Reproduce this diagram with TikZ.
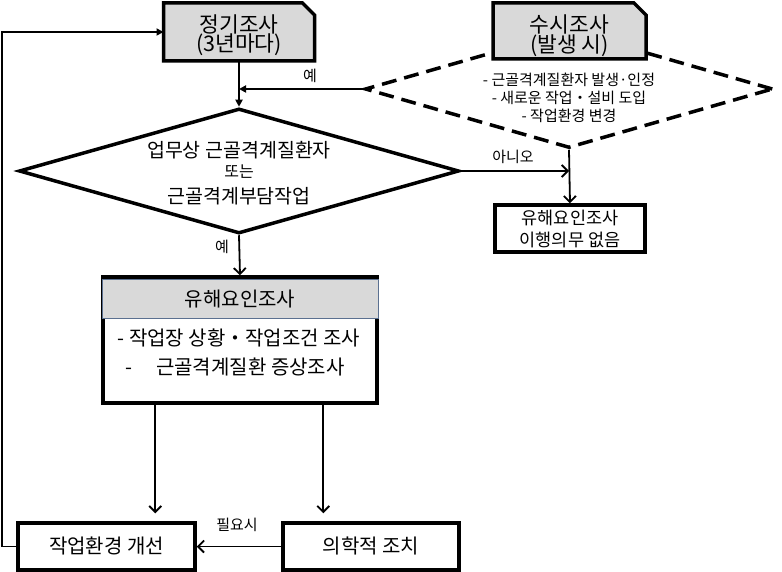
\documentclass[tikz,border=0pt]{standalone}
\usepackage{fontspec}
\setmainfont{Noto Sans CJK KR}
\usetikzlibrary{shapes.geometric,arrows.meta,calc}
\definecolor{boxgray}{HTML}{D9D9D9}
\definecolor{hdrline}{HTML}{5B7090}
\newcommand\myfs[1]{\fontsize{#1}{#1}\selectfont}
\tikzset{
  boxline/.style={draw=black, line width=3.5pt},
  anchorbox/.style={inner sep=0pt, outer sep=0pt},
  tbox/.style={boxline, fill=white, inner sep=0pt},
  txt/.style={inner sep=0pt, text=black},
  arrF/.style={line width=1.8pt, -{Triangle[length=7pt,width=7pt]}},
  arrO/.style={line width=1.8pt, -{Straight Barb[length=6pt,width=12pt]}},
  lbl/.style={txt, font=\myfs{15}},
}
\begin{document}
\begin{tikzpicture}[x=1pt, y=-1pt]
\useasboundingbox (0,0) rectangle (782,572);

% periodic survey box (chamfered)
\node[anchorbox, minimum width=151pt, minimum height=58pt] (a) at (239,32) {};
\draw[boxline, fill=boxgray] (a.south west) -- (a.north west) -- ($(a.north east)+(-12,0)$) -- ($(a.north east)+(0,12)$) -- (a.south east) -- cycle;
\node[txt, font=\myfs{21.5}] (a1) at (239,24) {정기조사};
\node[txt, font=\myfs{21.5}] (a2) at (239,45) {(3년마다)};

% dashed occasional diamond
\node[diamond, draw, line width=3.5pt, dash pattern=on 15pt off 8pt, minimum width=408pt, minimum height=118pt, inner sep=0pt] (d2) at (569,89) {};
\node[txt, font=\myfs{15}] (d2a) at (569,80) {- 근골격계질환자 발생·인정};
\node[txt, font=\myfs{15}] (d2b) at (569,98) {- 새로운 작업・설비 도입};
\node[txt, font=\myfs{15}] (d2c) at (569,116) {- 작업환경 변경};

% occasional survey box (chamfered)
\node[anchorbox, minimum width=153pt, minimum height=56pt] (s) at (569.5,31) {};
\draw[boxline, fill=boxgray] (s.south west) -- (s.north west) -- ($(s.north east)+(-12,0)$) -- ($(s.north east)+(0,12)$) -- (s.south east) -- cycle;
\node[txt, font=\myfs{21.5}] (s1) at (569.5,24) {수시조사};
\node[txt, font=\myfs{21.5}] (s2) at (569.5,46) {(발생 시)};

% main decision diamond
\node[diamond, draw, line width=3.5pt, minimum width=440pt, minimum height=125pt, inner sep=0pt] (d1) at (239,171) {};
\node[txt, font=\myfs{19.5}] (d1a) at (239,150) {업무상 근골격계질환자};
\node[txt, font=\myfs{16}] (d1b) at (239,172) {또는};
\node[txt, font=\myfs{19.5}] (d1c) at (239,196) {근골격계부담작업};

% no obligation box
\node[tbox, minimum width=150pt, minimum height=47pt] (n) at (570,228.5) {};
\node[txt, font=\myfs{17.5}] (n1) at (570,218) {유해요인조사};
\node[txt, font=\myfs{17.5}] (n2) at (570,240) {이행의무 없음};

% hazard survey box
\node[tbox, minimum width=274pt, minimum height=126pt] (h) at (240,340) {};
\node[draw=hdrline, line width=0.8pt, fill=boxgray, inner sep=0pt, minimum width=276pt, minimum height=39pt] (hh) at (240,298.5) {};
\node[txt, font=\myfs{20}] (h0) at (240,299) {유해요인조사};
\node[txt, font=\myfs{20}] (h1) at (239,338) {- 작업장 상황・작업조건 조사};
\node[txt, font=\myfs{20}, anchor=west] (h2) at (125,367) {-\hspace{24pt}근골격계질환 증상조사};

% bottom boxes
\node[tbox, minimum width=177pt, minimum height=47pt] (b1) at (106.5,546.5) {};
\node[txt, font=\myfs{20}] (b1t) at (106.5,546) {작업환경 개선};
\node[tbox, minimum width=176pt, minimum height=47pt] (b2) at (371,546.5) {};
\node[txt, font=\myfs{20}] (b2t) at (371,546) {의학적 조치};

% connectors
\draw[arrF] (a.south) -- (d1.north);
\draw[arrF] (d2.west) -- (d2.west -| a.south);
\node[lbl] (yes1) at (310,76) {예};
\draw[arrO] (d1.east) -- (d1.east -| d2.south);
\node[lbl] (no1) at (513,157) {아니오};
\draw[arrO] (d2.south) -- (n.north);
\draw[arrO] (d1.south) -- (h.north);
\node[lbl] (yes2) at (222,247) {예};

\coordinate (p1) at ($(h.south west)+(54,0)$);
\coordinate (p2) at ($(h.south west)+(222,0)$);
\draw[arrO, shorten >=8pt] (p1) -- (p1 |- b1.north);
\draw[arrO, shorten >=8pt] (p2) -- (p2 |- b2.north);
\draw[arrO] (b2.west) -- (b1.east);
\node[lbl] (need) at (237,525) {필요시};
\draw[arrF] (b1.west) -- ++(-14,0) |- (a.west);
\end{tikzpicture}
\end{document}
